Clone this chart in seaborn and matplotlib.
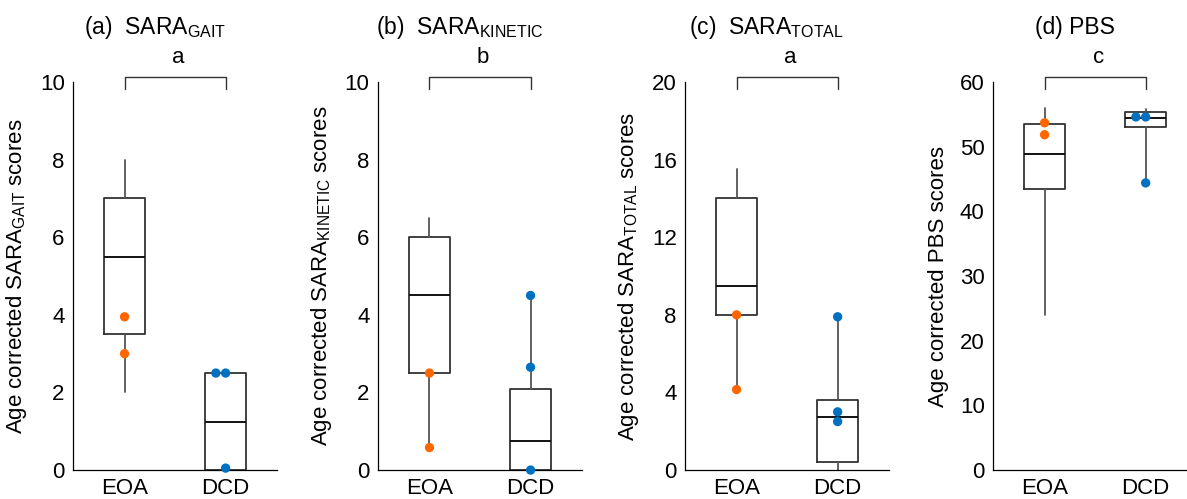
import numpy as np
import pandas as pd
import matplotlib
matplotlib.use("Agg")
import matplotlib.pyplot as plt
import matplotlib.transforms as mtransforms
import seaborn as sns

# ── Data ──────────────────────────────────────────────────────────────────────
groups = ["EOA", "DCD"]

# box stats: [whisker low, q1, median, q3, whisker high]
gait_eoa_box = [2.0, 3.5, 5.5, 7.0, 8.0]
gait_dcd_box = [0.0, 0.0, 1.25, 2.5, 2.5]
gait_eoa_pts = [3.95, 3.0]
gait_dcd_pts = [2.5, 2.5, 0.05]

kin_eoa_box = [0.58, 2.5, 4.5, 6.0, 6.5]
kin_dcd_box = [0.0, 0.0, 0.75, 2.1, 4.5]
kin_eoa_pts = [2.5, 0.58]
kin_dcd_pts = [4.5, 2.65, 0.0]

tot_eoa_box = [4.15, 8.0, 9.5, 14.0, 15.5]
tot_dcd_box = [0.0, 0.4, 2.75, 3.6, 7.9]
tot_eoa_pts = [8.0, 4.15]
tot_dcd_pts = [7.9, 3.0, 2.5]

pbs_eoa_box = [24.0, 43.5, 48.9, 53.5, 56.0]
pbs_dcd_box = [44.4, 53.1, 54.4, 55.4, 55.9]
pbs_eoa_pts = [53.7, 51.85]
pbs_dcd_pts = [54.6, 54.6, 44.4]

titles = ["(a)  SARA$_{\\rm GAIT}$", "(b)  SARA$_{\\rm KINETIC}$",
          "(c)  SARA$_{\\rm TOTAL}$", "(d) PBS"]
ylabels = ["Age corrected SARA$_{\\rm GAIT}$ scores",
           "Age corrected SARA$_{\\rm KINETIC}$ scores",
           "Age corrected SARA$_{\\rm TOTAL}$ scores",
           "Age corrected PBS scores"]
sig_letters = ["a", "b", "a", "c"]
ymax = [10, 10, 20, 60]
ystep = [2, 2, 4, 10]

panels = [
    (gait_eoa_box, gait_dcd_box, gait_eoa_pts, gait_dcd_pts),
    (kin_eoa_box, kin_dcd_box, kin_eoa_pts, kin_dcd_pts),
    (tot_eoa_box, tot_dcd_box, tot_eoa_pts, tot_dcd_pts),
    (pbs_eoa_box, pbs_dcd_box, pbs_eoa_pts, pbs_dcd_pts),
]

ORANGE = "#ff6600"
BLUE = "#0070c0"

# ── Style ─────────────────────────────────────────────────────────────────────
sns.set_style("white")
plt.rcParams["font.family"] = ["Liberation Sans", "DejaVu Sans"]
plt.rcParams["text.color"] = "black"
plt.rcParams["axes.labelcolor"] = "black"
plt.rcParams["mathtext.fontset"] = "custom"
plt.rcParams["mathtext.rm"] = "Liberation Sans"
plt.rcParams["mathtext.it"] = "Liberation Sans:italic"
plt.rcParams["mathtext.bf"] = "Liberation Sans:bold"

fig = plt.figure(figsize=(11.87, 4.99), dpi=100)
lefts = [0.0615, 0.3184, 0.5771, 0.8366]
FS = 16

for i, (eoa_box, dcd_box, eoa_pts, dcd_pts) in enumerate(panels):
    ax = fig.add_axes([lefts[i], 0.058, 0.172, 0.7776])

    stats = []
    for lab, b in zip(groups, [eoa_box, dcd_box]):
        stats.append({"label": lab, "whislo": b[0], "q1": b[1], "med": b[2],
                      "q3": b[3], "whishi": b[4], "fliers": []})
    ax.bxp(stats, positions=[0, 1], widths=0.4, showcaps=False,
           showfliers=False, manage_ticks=False, patch_artist=False,
           boxprops={"color": "#333333", "linewidth": 1.3},
           whiskerprops={"color": "#555555", "linewidth": 1.3},
           medianprops={"color": "#111111", "linewidth": 1.4})

    df = pd.DataFrame({
        "group": ["EOA"] * len(eoa_pts) + ["DCD"] * len(dcd_pts),
        "value": list(eoa_pts) + list(dcd_pts),
    })
    sns.swarmplot(data=df, x="group", y="value", hue="group", order=groups,
                  hue_order=groups, palette=[ORANGE, BLUE], size=6.7,
                  legend=False, ax=ax, zorder=4, clip_on=False, linewidth=0)

    ax.set_xlim(-0.51, 1.51)
    ax.set_ylim(0, ymax[i])
    ax.set_yticks(np.arange(0, ymax[i] + 1, ystep[i]))
    ax.set_xticks([0, 1])
    ax.set_xticklabels(groups)
    ax.tick_params(axis="both", length=0, labelsize=FS, pad=6,
                   colors="black", labelcolor="black")
    ax.set_xlabel("")
    ax.set_ylabel(ylabels[i], fontsize=FS, labelpad=8, color="black")
    for s in ["top", "right"]:
        ax.spines[s].set_visible(False)
    for s in ["left", "bottom"]:
        ax.spines[s].set_color("black")
        ax.spines[s].set_linewidth(0.9)

    # significance bracket
    trans = mtransforms.blended_transform_factory(ax.transData, ax.transAxes)
    ax.plot([0, 0, 1, 1], [0.982, 1.013, 1.013, 0.982], color="#333333",
            lw=1.0, transform=trans, clip_on=False)
    ax.text(0.53, 1.064, sig_letters[i], transform=trans, ha="center",
            va="center", fontsize=FS, color="black")

    ax.text(0.40, 1.14, titles[i], transform=ax.transAxes, ha="center",
            va="center", fontsize=FS + 0.5, color="black")

fig.savefig("out.png", dpi=100)
